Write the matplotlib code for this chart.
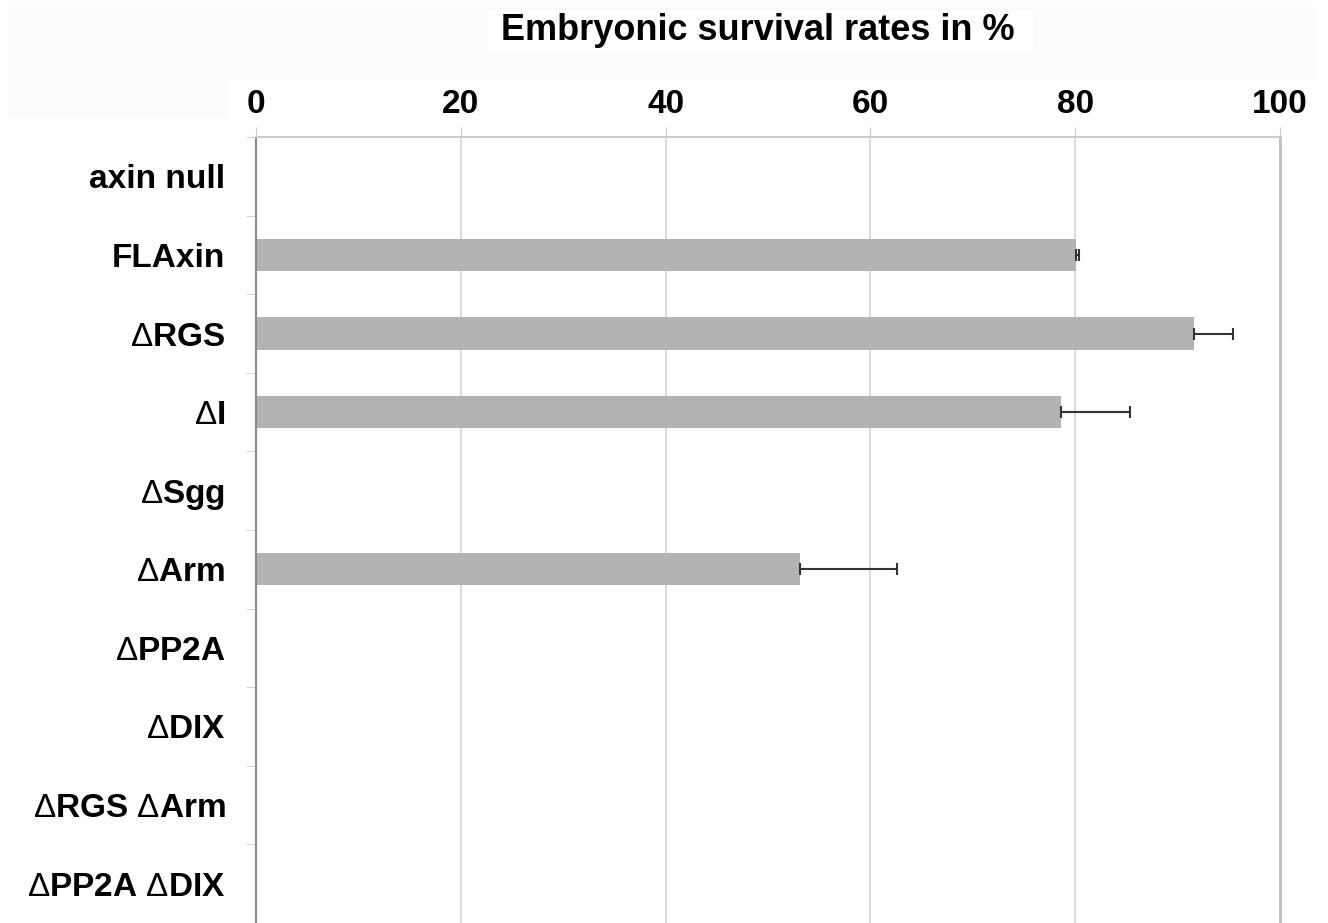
import matplotlib.pyplot as plt
from matplotlib.patches import Rectangle
import numpy as np

plt.rcParams['font.family'] = ['Liberation Sans', 'DejaVu Sans']
plt.rcParams['mathtext.fontset'] = 'custom'
plt.rcParams['mathtext.rm'] = 'Liberation Sans'

labels = ["axin null", r"FLAxin", r"$\Delta$RGS", r"$\Delta$I", r"$\Delta$Sgg",
          r"$\Delta$Arm", r"$\Delta$PP2A", r"$\Delta$DIX",
          r"$\Delta$RGS $\Delta$Arm", r"$\Delta$PP2A $\Delta$DIX"]
survival = [0, 80.1, 91.6, 78.6, 0, 53.1, 0, 0, 0, 0]
errors = [0, 0.3, 3.8, 6.8, 0, 9.5, 0, 0, 0, 0]

W, H = 1328, 923
fig = plt.figure(figsize=(W / 100, H / 100), dpi=100)

# faint grey background band behind the header
def px_rect(x0, y0, x1, y1, color):
    fig.patches.append(Rectangle((x0 / W, 1 - y1 / H), (x1 - x0) / W, (y1 - y0) / H,
                                 transform=fig.transFigure, color=color, lw=0, zorder=-5))

px_rect(8, 7, 1315, 80, '#fbfbfb')
px_rect(8, 80, 228, 117, '#fbfbfb')
px_rect(488, 10, 1033, 53, 'white')

ax = fig.add_axes([256 / W, 0.0, 1024 / W, 1 - 137 / H])

y = np.arange(len(labels))
ax.barh(y, survival, height=0.41, color='#b3b3b3', zorder=2)
has_err = [i for i, e in enumerate(errors) if e > 0]
ax.errorbar([survival[i] for i in has_err], [y[i] for i in has_err],
            xerr=[[0] * len(has_err), [errors[i] for i in has_err]],
            fmt='none', ecolor='#333333', elinewidth=1.5, capsize=4, capthick=1.5, zorder=3)

ax.set_xlim(0, 100)
ax.set_ylim(len(labels) - 0.5, -0.5)
ax.xaxis.tick_top()
ax.set_xticks(np.arange(0, 101, 20))
ax.tick_params(axis='x', length=7.2, color='#cccccc', labelsize=24, pad=5)
for t in ax.get_xticklabels():
    t.set_fontweight('bold')

ax.set_yticks(y)
ax.set_yticklabels(labels, fontsize=24, fontweight='bold')
ax.set_yticks(np.arange(-0.5, len(labels), 1), minor=True)
ax.tick_params(axis='y', which='major', length=0, pad=22)
ax.tick_params(axis='y', which='minor', length=7.2, color='#cccccc')

ax.grid(axis='x', color='#d4d4d4', linewidth=1.2, zorder=0)
ax.set_axisbelow(True)
ax.spines['bottom'].set_visible(False)
ax.spines['left'].set_color('#888888')
ax.spines['left'].set_linewidth(1.5)
ax.spines['top'].set_color('#cccccc')
ax.spines['top'].set_linewidth(1.5)
ax.spines['right'].set_color('#c0c0c0')
ax.spines['right'].set_linewidth(2)

fig.text(758 / W, 1 - 30 / H, "Embryonic survival rates in %", ha='center', va='center',
         fontsize=26, fontweight='bold')

fig.savefig('out.png', dpi=100)
